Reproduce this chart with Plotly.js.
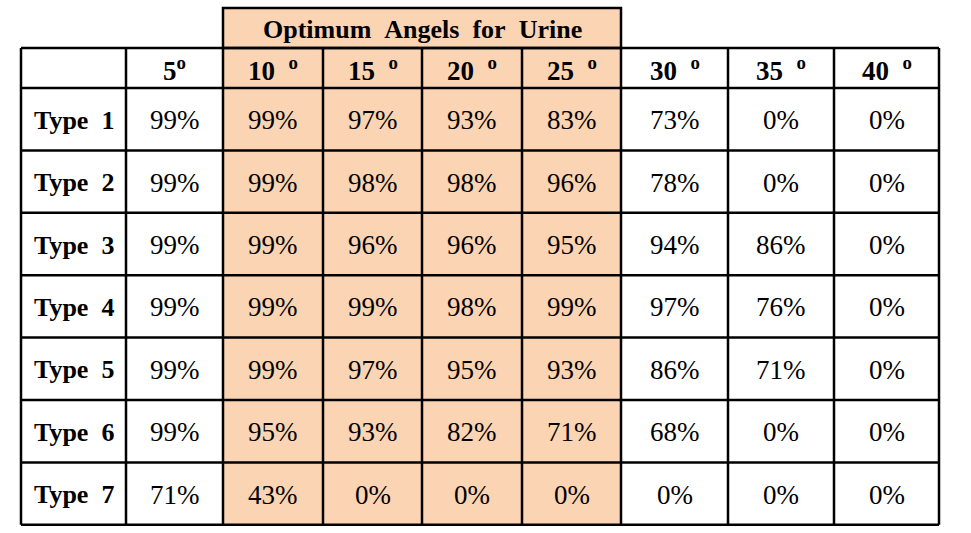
<!DOCTYPE html>
<html>
<head>
<meta charset="utf-8">
<script src="https://cdn.plot.ly/plotly-3.0.1.min.js"></script>
<style>
  html, body { margin: 0; padding: 0; background: #fff; }
  #chart { width: 971px; height: 533px; }
</style>
</head>
<body>
<div id="chart"></div>
<script>
// table content
const title = 'Optimum&nbsp;&nbsp;Angels&nbsp;&nbsp;for&nbsp;&nbsp;Urine';
const angles = ['5', '10', '15', '20', '25', '30', '35', '40'];
const types = ['Type&nbsp;&nbsp;1', 'Type&nbsp;&nbsp;2', 'Type&nbsp;&nbsp;3', 'Type&nbsp;&nbsp;4',
               'Type&nbsp;&nbsp;5', 'Type&nbsp;&nbsp;6', 'Type&nbsp;&nbsp;7'];
const type1 = [99, 99, 97, 93, 83, 73, 0, 0];
const type2 = [99, 99, 98, 98, 96, 78, 0, 0];
const type3 = [99, 99, 96, 96, 95, 94, 86, 0];
const type4 = [99, 99, 99, 98, 99, 97, 76, 0];
const type5 = [99, 99, 97, 95, 93, 86, 71, 0];
const type6 = [99, 95, 93, 82, 71, 68, 0, 0];
const type7 = [71, 43, 0, 0, 0, 0, 0, 0];
const rows = [type1, type2, type3, type4, type5, type6, type7];
const optimumCols = [1, 2, 3, 4]; // angle indices under the title (10..25)

// layout geometry
const left = 21;
const colWidths = [105, 97, 100, 99, 100, 99, 107, 106, 105];
const titleTop = 8;
const headTop = 48;
const headH = 40;
const rowH = 62.4;

const xEdges = [left];
colWidths.forEach(w => xEdges.push(xEdges[xEdges.length - 1] + w));
const yEdges = [headTop, headTop + headH];
rows.forEach(() => yEdges.push(yEdges[yEdges.length - 1] + rowH));
const xMid = i => (xEdges[i] + xEdges[i + 1]) / 2;
const yMid = i => (yEdges[i] + yEdges[i + 1]) / 2;

const FONT = 'Liberation Serif';
const PEACH = '#FBD4B4';
const LW = 2.5;
const dy = 1;

function cell(x, y, text, size) {
  return {
    xref: 'x', yref: 'y', x: x, y: y, text: text, showarrow: false,
    xanchor: 'center', yanchor: 'middle',
    font: { family: FONT, size: size || 27, color: '#000' },
  };
}

const annotations = [];
angles.forEach((a, j) => {
  const t = j === 0 ? '<b>' + a + '<sup>o</sup></b>' : '<b>' + a + '&nbsp;&nbsp;<sup>o</sup></b>';
  annotations.push(cell(xMid(j + 1), yMid(0) + dy, t));
});
types.forEach((t, i) => {
  annotations.push(cell(xMid(0), yMid(i + 1) + dy, '<b>' + t + '</b>', 26));
  rows[i].forEach((v, j) => {
    annotations.push(cell(xMid(j + 1), yMid(i + 1) + dy, v + '%'));
  });
});
const oL = xEdges[optimumCols[0] + 1];
const oR = xEdges[optimumCols[optimumCols.length - 1] + 2];
annotations.push(cell((oL + oR) / 2, (titleTop + headTop) / 2 + dy, '<b>' + title + '</b>', 26));

// fills and grid
const shapes = [];
const tableBottom = yEdges[yEdges.length - 1];
const tableRight = xEdges[xEdges.length - 1];
shapes.push({
  type: 'rect', xref: 'x', yref: 'y', layer: 'below',
  x0: oL, x1: oR, y0: titleTop, y1: tableBottom,
  fillcolor: PEACH, line: { width: 0 },
});
yEdges.forEach(y => shapes.push({
  type: 'line', xref: 'x', yref: 'y', x0: left, x1: tableRight, y0: y, y1: y,
  line: { color: '#000', width: LW },
}));
xEdges.forEach(x => shapes.push({
  type: 'line', xref: 'x', yref: 'y', x0: x, x1: x, y0: headTop, y1: tableBottom,
  line: { color: '#000', width: LW },
}));
shapes.push({
  type: 'rect', xref: 'x', yref: 'y', x0: oL, x1: oR, y0: titleTop, y1: headTop,
  line: { color: '#000', width: LW },
});

const layout = {
  width: 971, height: 533,
  margin: { t: 0, r: 0, b: 0, l: 0 },
  paper_bgcolor: '#fff', plot_bgcolor: '#fff',
  xaxis: { range: [0, 971], visible: false, fixedrange: true },
  yaxis: { range: [533, 0], visible: false, fixedrange: true },
  shapes: shapes,
  annotations: annotations,
  showlegend: false,
};

Plotly.newPlot('chart', [], layout, { displayModeBar: false, staticPlot: true });
</script>
</body>
</html>
